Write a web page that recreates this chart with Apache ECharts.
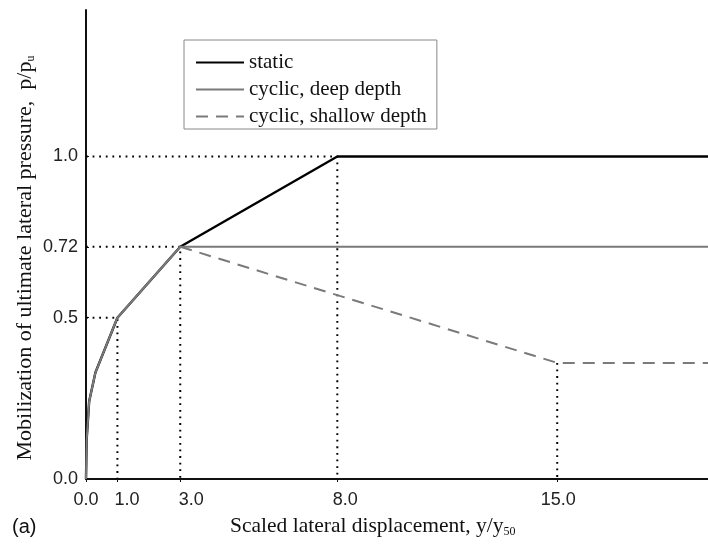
<!DOCTYPE html>
<html>
<head>
<meta charset="utf-8">
<script src="https://cdn.jsdelivr.net/npm/echarts@6/dist/echarts.min.js"></script>
<style>html,body{margin:0;padding:0;background:#fff}#c{width:708px;height:547px}</style>
</head>
<body>
<div id="c"></div>
<script>
// ---- data ----
const xTicks = [0, 1, 3, 8, 15];
const yTicks = [0, 0.5, 0.72, 1.0];
const staticCurve  = [[0,0],[0.02,0.12],[0.1,0.24],[0.3,0.33],[1,0.5],[3,0.72],[8,1.0],[19.8,1.0]];
const deepCurve    = [[0,0],[0.02,0.12],[0.1,0.24],[0.3,0.33],[1,0.5],[3,0.72],[19.8,0.72]];
const shallowCurve = [[3,0.72],[15,0.36],[19.8,0.36]];
const guide10  = [[0,1.0],[8,1.0],[8,0]];
const guide072 = [[0,0.72],[3,0.72],[3,0]];
const guide05  = [[0,0.5],[1,0.5],[1,0]];
const guide15  = [[15,0.36],[15,0]];
const seriesNames = ['static', 'cyclic, deep depth', 'cyclic, shallow depth'];

const chart = echarts.init(document.getElementById('c'));
const serif = '"Liberation Serif", "Times New Roman", serif';
const sans = '"Liberation Sans", Arial, sans-serif';
const dotted = {color:'#000', width:2, type:[1.8,4.8]};
function guide(d){ return {type:'line', data:d, symbol:'none', silent:true, z:1, lineStyle:dotted}; }
const xShift = {0:0, 1:19, 3:22, 8:16, 15:2};

chart.setOption({
  animation:false,
  grid:{left:86, right:0, top:10, bottom:68},
  legend:{
    data:seriesNames, orient:'vertical', left:184, top:40,
    itemWidth:48, itemHeight:14, itemGap:6,
    padding:[12,10,2,11],
    borderColor:'#888', borderWidth:1,
    itemStyle:{opacity:0},
    textStyle:{fontFamily:serif, fontSize:21, color:'#111'}
  },
  xAxis:{
    type:'value', min:0, max:19.8,
    axisLine:{lineStyle:{color:'#111', width:2}},
    splitLine:{show:false},
    axisTick:{show:true, length:3, customValues:xTicks, lineStyle:{color:'#111'}},
    axisLabel:{customValues:xTicks, margin:12, fontFamily:sans, fontSize:18, color:'#222',
      formatter:v=>'{s'+v+'|'+v.toFixed(1)+'}',
      rich:Object.fromEntries(xTicks.map(v=>['s'+v,{padding:[0,0,0,xShift[v]], fontFamily:sans, fontSize:18, color:'#222'}]))}
  },
  yAxis:{
    type:'value', min:0, max:1.454,
    axisLine:{lineStyle:{color:'#111', width:2}},
    splitLine:{show:false},
    axisTick:{show:true, inside:true, length:3, customValues:yTicks, lineStyle:{color:'#111'}},
    axisLabel:{customValues:yTicks, margin:8, fontFamily:sans, fontSize:18, color:'#222',
      formatter:v=> (Math.abs(v-0.72)<1e-9 ? '0.72' : v.toFixed(1))}
  },
  series:[
    guide(guide10), guide(guide072), guide(guide05), guide(guide15),
    {name:seriesNames[0], type:'line', data:staticCurve, symbol:'none', z:3,
     lineStyle:{color:'#000', width:2.4}, itemStyle:{color:'#000'}},
    {name:seriesNames[2], type:'line', data:shallowCurve, symbol:'none', z:3,
     lineStyle:{color:'#7a7a7a', width:2, type:[12,8]}, itemStyle:{color:'#7a7a7a'}},
    {name:seriesNames[1], type:'line', data:deepCurve, symbol:'none', z:4,
     lineStyle:{color:'#7a7a7a', width:2}, itemStyle:{color:'#7a7a7a'}}
  ],
  graphic:[
    {type:'text', x:230, y:526, style:{
      text:'{a|Scaled lateral displacement, y/y}{s|50}',
      verticalAlign:'middle',
      rich:{a:{fontFamily:serif, fontSize:21.5, fill:'#111'}, s:{fontFamily:serif, fontSize:12, fill:'#111', padding:[12,0,0,0]}}
    }},
    {type:'text', x:25, y:258, rotation:Math.PI/2, style:{
      text:'{a|Mobilization of ultimate lateral pressure,  p/p}{s|u}',
      align:'center', verticalAlign:'middle',
      rich:{a:{fontFamily:serif, fontSize:22, fill:'#111'}, s:{fontFamily:serif, fontSize:12, fill:'#111', padding:[12,0,0,0]}}
    }},
    {type:'text', x:12, y:527, style:{text:'(a)', fontFamily:sans, fontSize:20, fill:'#111', verticalAlign:'middle'}}
  ]
});
</script>
</body>
</html>
